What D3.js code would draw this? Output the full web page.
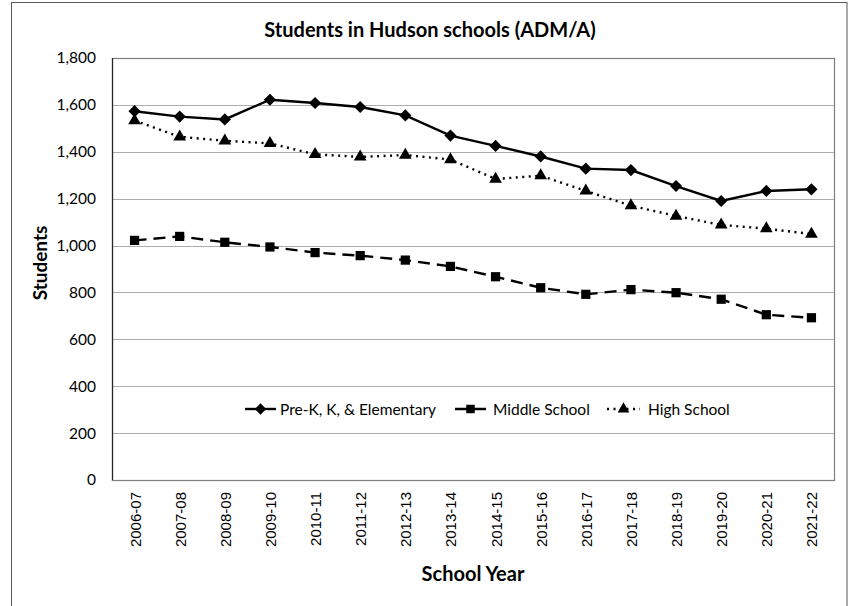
<!DOCTYPE html>
<html>
<head>
<meta charset="utf-8">
<script src="https://cdn.jsdelivr.net/npm/d3@7"></script>
<style>
  body { margin: 0; background: #fff; }
  svg { display: block; }
</style>
</head>
<body>
<div id="chart"></div>
<script>
// school years along the x axis
const years = ['2006-07', '2007-08', '2008-09', '2009-10', '2010-11', '2011-12', '2012-13', '2013-14',
    '2014-15', '2015-16', '2016-17', '2017-18', '2018-19', '2019-20', '2020-21', '2021-22'];

// students per group
const elementary = [1573, 1550, 1538, 1622, 1608, 1591, 1555, 1469, 1425, 1380, 1328, 1322, 1254, 1190, 1233, 1240];
const middle = [1022, 1039, 1014, 994, 970, 957, 938, 911, 867, 820, 792, 812, 799, 771, 705, 692];
const high = [1533, 1464, 1447, 1436, 1389, 1378, 1386, 1367, 1284, 1298, 1233, 1170, 1126, 1088, 1072, 1049];

const yTicks = [0, 200, 400, 600, 800, 1000, 1200, 1400, 1600, 1800];

const width = 851, height = 606;
const plot = { left: 112, top: 58, right: 834, bottom: 480 };
const labelFont = 'Lato, "Open Sans", sans-serif';

const svg = d3.select('#chart')
    .append('svg')
    .attr('width', width)
    .attr('height', height);

// outer chart frame
svg.append('rect')
    .attr('x', 11.5)
    .attr('y', 2.5)
    .attr('width', 835.5)
    .attr('height', 640)
    .attr('fill', '#fff')
    .attr('stroke', '#595959')
    .attr('stroke-width', 1);

const x = d3.scaleBand()
    .domain(years)
    .range([plot.left, plot.right])
    .padding(0);
const cx = d => x(d) + x.bandwidth() / 2;

const y = d3.scaleLinear()
    .domain([0, 1800])
    .range([plot.bottom, plot.top]);

// gridlines
svg.append('g')
    .selectAll('line')
    .data(yTicks.filter(d => d > 0 && d < 1800))
    .enter()
    .append('line')
    .attr('x1', plot.left)
    .attr('x2', plot.right)
    .attr('y1', d => Math.round(y(d)) + 0.5)
    .attr('y2', d => Math.round(y(d)) + 0.5)
    .attr('stroke', '#adadad')
    .attr('stroke-width', 1.2);

// plot border
svg.append('rect')
    .attr('x', plot.left + 0.5)
    .attr('y', plot.top + 0.5)
    .attr('width', plot.right - plot.left)
    .attr('height', plot.bottom - plot.top)
    .attr('fill', 'none')
    .attr('stroke', '#7f7f7f')
    .attr('stroke-width', 1.2);

// axis lines
svg.append('line')
    .attr('x1', plot.left + 0.5).attr('x2', plot.left + 0.5)
    .attr('y1', plot.top).attr('y2', plot.bottom + 1)
    .attr('stroke', '#262626').attr('stroke-width', 1.2);
svg.append('line')
    .attr('x1', plot.left).attr('x2', plot.right + 1)
    .attr('y1', plot.bottom + 0.5).attr('y2', plot.bottom + 0.5)
    .attr('stroke', '#7f7f7f').attr('stroke-width', 1.2);

// y axis labels
const yAxis = svg.append('g')
    .attr('transform', `translate(${plot.left},0)`)
    .call(d3.axisLeft(y).tickValues(yTicks).tickSize(0).tickPadding(16).tickFormat(d3.format(',')));
yAxis.select('.domain').remove();
yAxis.selectAll('text')
    .attr('font-family', labelFont)
    .attr('font-size', 15.5)
    .attr('fill', '#000');

// x axis labels
const xAxis = svg.append('g')
    .attr('transform', `translate(0,${plot.bottom})`)
    .call(d3.axisBottom(x).tickSize(0).tickPadding(0));
xAxis.select('.domain').remove();
xAxis.selectAll('text')
    .attr('font-family', '"Liberation Sans", Arial, sans-serif')
    .attr('font-size', 15)
    .attr('fill', '#000')
    .attr('text-anchor', 'end')
    .attr('dy', null)
    .attr('transform', 'translate(6,12) rotate(-90)');

// titles
svg.append('text')
    .attr('x', 430)
    .attr('y', 37)
    .attr('text-anchor', 'middle')
    .attr('font-family', labelFont)
    .attr('font-weight', 'bold')
    .attr('font-size', 20)
    .text('Students in Hudson schools (ADM/A)');

svg.append('text')
    .attr('x', (plot.left + plot.right) / 2)
    .attr('y', 581)
    .attr('text-anchor', 'middle')
    .attr('font-family', labelFont)
    .attr('font-weight', 'bold')
    .attr('font-size', 20)
    .text('School Year');

svg.append('text')
    .attr('transform', `translate(47,${(plot.top + plot.bottom) / 2 - 6}) rotate(-90)`)
    .attr('text-anchor', 'middle')
    .attr('font-family', labelFont)
    .attr('font-weight', 'bold')
    .attr('font-size', 19)
    .text('Students');

// series
const series = [
    { name: 'Pre-K, K, & Elementary', values: elementary, dash: null, marker: d3.symbolDiamond2, size: 95 },
    { name: 'Middle School', values: middle, dash: '12,7', marker: d3.symbolSquare, size: 85 },
    { name: 'High School', values: high, dash: '2,4.5', marker: d3.symbolTriangle, size: 70 }
];

const line = d3.line()
    .x((d, i) => cx(years[i]))
    .y(d => y(d));

series.forEach(s => {
    svg.append('path')
        .datum(s.values)
        .attr('fill', 'none')
        .attr('stroke', '#000')
        .attr('stroke-width', 2.4)
        .attr('stroke-dasharray', s.dash)
        .attr('d', line);

    svg.append('g')
        .selectAll('path')
        .data(s.values)
        .enter()
        .append('path')
        .attr('d', d3.symbol().type(s.marker).size(s.size))
        .attr('transform', (d, i) => `translate(${cx(years[i])},${y(d)})`)
        .attr('fill', '#000');
});

// legend
const legendItems = [
    { x: 245, len: 31, textX: 280 },
    { x: 455, len: 31, textX: 493 },
    { x: 607, len: 33, textX: 648 }
];
const legend = svg.append('g').attr('transform', 'translate(0,409)');
series.forEach((s, i) => {
    const pos = legendItems[i];
    legend.append('line')
        .attr('x1', pos.x).attr('x2', pos.x + pos.len)
        .attr('y1', 0).attr('y2', 0)
        .attr('stroke', '#000')
        .attr('stroke-width', 2.4)
        .attr('stroke-dasharray', s.dash);
    legend.append('path')
        .attr('d', d3.symbol().type(s.marker).size(s.size * 0.85))
        .attr('transform', `translate(${pos.x + pos.len / 2},0)`)
        .attr('fill', '#000');
    legend.append('text')
        .attr('x', pos.textX)
        .attr('y', 5.5)
        .attr('font-family', labelFont)
        .attr('font-size', 15.5)
        .text(s.name);
});
</script>
</body>
</html>
